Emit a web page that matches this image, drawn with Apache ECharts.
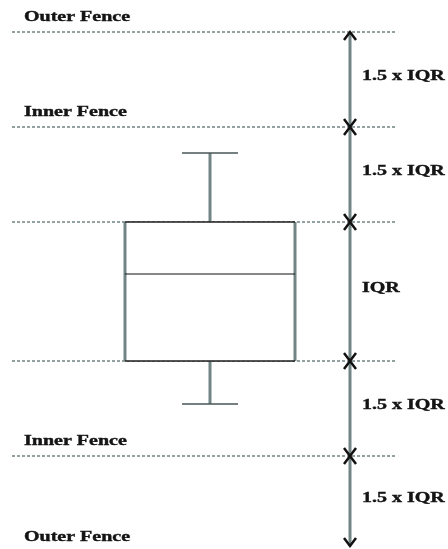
<!DOCTYPE html>
<html>
<head>
<meta charset="utf-8">
<script src="https://cdn.jsdelivr.net/npm/echarts@6/dist/echarts.min.js"></script>
<style>
    html, body { margin: 0; padding: 0; background: #fff; }
    #fences { width: 448px; height: 549px; }
</style>
</head>
<body>
<div id="fences"></div>
<script>
// niveles (unidades del eje, 0 = abajo)
var fenceNames = ['Outer Fence', 'Inner Fence', 'Inner Fence', 'Outer Fence'];
var fenceValues = [517, 422, 93, -3];
// bigote bajo, Q1, mediana, Q3, bigote alto
var boxValues = [145, 188, 275, 327, 396];
// tramos de las flechas de la derecha
var bandLabels = ['1.5 x IQR', '1.5 x IQR', 'IQR', '1.5 x IQR', '1.5 x IQR'];
var bandFrom = [517, 422, 327, 188, 93];
var bandTo = [422, 327, 188, 93, 3];

document.addEventListener('DOMContentLoaded', function () {
    var chartDom = document.getElementById('fences');
    var myChart = echarts.init(chartDom);
    var option;

    var font = 'bold 14.5px "Liberation Serif", "DejaVu Serif", serif';
    var gray = '#728484';

    // lineas punteadas: cercas + Q3 y Q1
    var dashLevels = [fenceValues[0], fenceValues[1], boxValues[3], boxValues[1], fenceValues[2], fenceValues[3]];

    function label(x, y, text) {
        return {
            type: 'text',
            x: x,
            y: y,
            scaleX: 1.38,
            style: {
                text: text,
                font: font,
                fill: '#141414',
                stroke: '#141414',
                lineWidth: 0.4,
                align: 'left',
                verticalAlign: 'middle'
            }
        };
    }

    option = {
        animation: false,
        grid: { left: 0, right: 0, top: 0, bottom: 0 },
        xAxis: { type: 'value', min: 0, max: 448, show: false },
        yAxis: { type: 'value', min: 0, max: 549, show: false },
        series: [
            {
                type: 'custom',
                data: dashLevels.map(function (v) { return [0, v]; }),
                renderItem: function (params, api) {
                    var a = api.coord([12, api.value(1)]);
                    var b = api.coord([395, api.value(1)]);
                    return {
                        type: 'line',
                        shape: { x1: a[0], y1: a[1], x2: b[0], y2: b[1] },
                        style: { stroke: '#718383', lineWidth: 1.5, lineDash: [3, 2] }
                    };
                }
            },
            {
                type: 'custom',
                data: fenceValues.map(function (v, i) { return [24, v, i]; }),
                renderItem: function (params, api) {
                    var p = api.coord([api.value(0), api.value(1)]);
                    return label(p[0], p[1] - 14.5, fenceNames[api.value(2)]);
                }
            },
            {
                type: 'custom',
                data: [[210].concat(boxValues)],
                renderItem: function (params, api) {
                    var x = api.value(0);
                    var low = api.coord([x, api.value(1)]);
                    var q1 = api.coord([x, api.value(2)]);
                    var med = api.coord([x, api.value(3)]);
                    var q3 = api.coord([x, api.value(4)]);
                    var high = api.coord([x, api.value(5)]);
                    var left = api.coord([125, 0])[0];
                    var right = api.coord([295, 0])[0];
                    var half = 28;
                    return {
                        type: 'group',
                        children: [
                            { type: 'rect', shape: { x: left, y: q3[1], width: right - left, height: q1[1] - q3[1] }, style: { fill: '#fff' } },
                            { type: 'line', shape: { x1: low[0], y1: q1[1], x2: low[0], y2: low[1] }, style: { stroke: gray, lineWidth: 3 } },
                            { type: 'line', shape: { x1: high[0], y1: q3[1], x2: high[0], y2: high[1] }, style: { stroke: gray, lineWidth: 3 } },
                            { type: 'line', shape: { x1: low[0] - half, y1: low[1], x2: low[0] + half, y2: low[1] }, style: { stroke: '#4a5656', lineWidth: 1.5 } },
                            { type: 'line', shape: { x1: high[0] - half, y1: high[1], x2: high[0] + half, y2: high[1] }, style: { stroke: '#4a5656', lineWidth: 1.5 } },
                            { type: 'line', shape: { x1: left, y1: q3[1], x2: left, y2: q1[1] }, style: { stroke: gray, lineWidth: 3 } },
                            { type: 'line', shape: { x1: right, y1: q3[1], x2: right, y2: q1[1] }, style: { stroke: gray, lineWidth: 3 } },
                            { type: 'line', shape: { x1: left, y1: q3[1], x2: right, y2: q3[1] }, style: { stroke: '#1e1e1e', lineWidth: 1.3 } },
                            { type: 'line', shape: { x1: left, y1: q1[1], x2: right, y2: q1[1] }, style: { stroke: '#1e1e1e', lineWidth: 1.3 } },
                            { type: 'line', shape: { x1: left, y1: med[1], x2: right, y2: med[1] }, style: { stroke: '#111', lineWidth: 1 } }
                        ]
                    };
                }
            },
            {
                type: 'custom',
                data: bandFrom.map(function (v, i) { return [350, v, bandTo[i], i]; }),
                renderItem: function (params, api) {
                    var x = api.value(0);
                    var a = api.coord([x, api.value(1)]);
                    var b = api.coord([x, api.value(2)]);
                    var w = 6, h = 8;
                    return {
                        type: 'group',
                        children: [
                            { type: 'line', shape: { x1: a[0], y1: a[1], x2: b[0], y2: b[1] }, style: { stroke: gray, lineWidth: 3 } },
                            { type: 'polyline', shape: { points: [[a[0] - w, a[1] + h], [a[0], a[1]], [a[0] + w, a[1] + h]] }, style: { stroke: '#111', lineWidth: 2.5, fill: null } },
                            { type: 'polyline', shape: { points: [[b[0] - w, b[1] - h], [b[0], b[1]], [b[0] + w, b[1] - h]] }, style: { stroke: '#111', lineWidth: 2.5, fill: null } },
                            label(362, (a[1] + b[1]) / 2 - 3, bandLabels[api.value(3)])
                        ]
                    };
                }
            }
        ]
    };

    option && myChart.setOption(option);
});
</script>
</body>
</html>
